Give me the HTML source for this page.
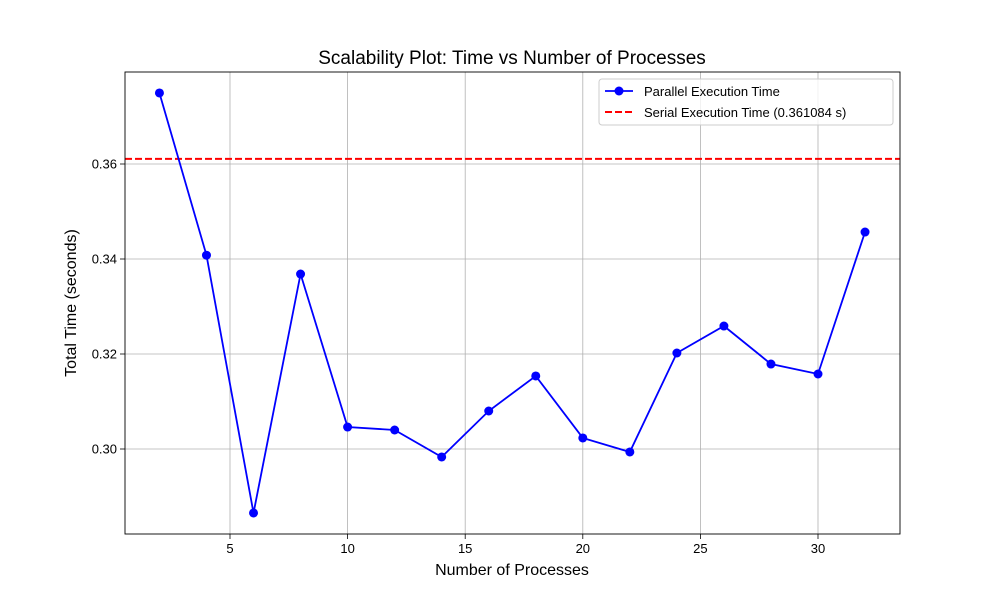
<!DOCTYPE html>
<html><head><meta charset="utf-8"><style>
body{margin:0;background:#fff;}
svg{font-family:"Liberation Sans","DejaVu Sans",sans-serif;}
</style></head><body>
<svg id="chart" width="1000" height="600"></svg>
<script>
const procs=[2,4,6,8,10,12,14,16,18,20,22,24,26,28,30,32];
const times=[0.37495,0.3408,0.28653,0.33684,0.30463,0.30400,0.29832,0.30800,0.31537,0.30232,0.29937,0.32021,0.32589,0.31789,0.31579,0.34568];
const serialTime=0.361084;
const xTicks=[5,10,15,20,25,30];
const yTicks=[0.30,0.32,0.34,0.36];
const yTickLabels=["0.30","0.32","0.34","0.36"];

const L=125,R=900,T=72,B=534;
const sx=v=>230+(v-5)*23.52;
const sy=v=>449-(v-0.30)*4750;
const NS="http://www.w3.org/2000/svg";
const svg=document.getElementById('chart');
function mk(tag,attrs,parent){const e=document.createElementNS(NS,tag);for(const k in attrs)e.setAttribute(k,attrs[k]);(parent||svg).appendChild(e);return e;}

const grid=mk('g',{});


xTicks.forEach(t=>{
  const l=mk('line',{x1:sx(t),x2:sx(t),y1:T,y2:B,stroke:'#b0b0b0','stroke-width':0.8},grid);
  
  
  const tk=mk('line',{x1:sx(t),x2:sx(t),y1:B,y2:B+5,stroke:'#000','stroke-width':0.8});
  
  
  const tx=mk('text',{x:sx(t),y:B+19,'text-anchor':'middle','font-size':13});
  tx.textContent=t;
  
  
});
yTicks.forEach((t,i)=>{
  const l=mk('line',{x1:L,x2:R,y1:sy(t),y2:sy(t),stroke:'#b0b0b0','stroke-width':0.8},grid);
  
  
  const tk=mk('line',{x1:L-5,x2:L,y1:sy(t),y2:sy(t),stroke:'#000','stroke-width':0.8});
  
  
  const tx=mk('text',{x:L-8,y:sy(t)+4.5,'text-anchor':'end','font-size':13});
  tx.textContent=yTickLabels[i];
  
  
});

const serial=mk('line',{x1:L,x2:R,y1:sy(serialTime),y2:sy(serialTime),stroke:'#ff0000','stroke-width':2,'stroke-dasharray':'7,3'});



const pts=procs.map((p,i)=>sx(p)+','+sy(times[i])).join(' ');
const line=mk('polyline',{points:pts,fill:'none',stroke:'#0000ff','stroke-width':1.8});


procs.forEach((p,i)=>{
  const c=mk('circle',{cx:sx(p),cy:sy(times[i]),r:4.5,fill:'#0000ff'});
  
  
});

const frame=mk('rect',{x:L,y:T,width:R-L,height:B-T,fill:'none',stroke:'#000','stroke-width':0.9});



const title=mk('text',{x:512,y:64,'text-anchor':'middle','font-size':19});
title.textContent='Scalability Plot: Time vs Number of Processes';


const xt=mk('text',{x:512,y:575,'text-anchor':'middle','font-size':16});
xt.textContent='Number of Processes';


const yt=mk('text',{x:76,y:303,'text-anchor':'middle','font-size':16,transform:'rotate(-90 76 303)'});
yt.textContent='Total Time (seconds)';



const lg=mk('g',{});


mk('rect',{x:599,y:79,width:294,height:46,rx:3,fill:'#fff','fill-opacity':0.8,stroke:'#ccc'},lg);
mk('line',{x1:605,x2:633,y1:91,y2:91,stroke:'#0000ff','stroke-width':1.8},lg);
mk('circle',{cx:619,cy:91,r:4.5,fill:'#0000ff'},lg);
const t1=mk('text',{x:644,y:96,'font-size':13},lg);
t1.textContent='Parallel Execution Time';


mk('line',{x1:605,x2:633,y1:112,y2:112,stroke:'#ff0000','stroke-width':2,'stroke-dasharray':'7,3'},lg);
const t2=mk('text',{x:644,y:117,'font-size':13},lg);
t2.textContent='Serial Execution Time (0.361084 s)';


</script>
</body></html>
